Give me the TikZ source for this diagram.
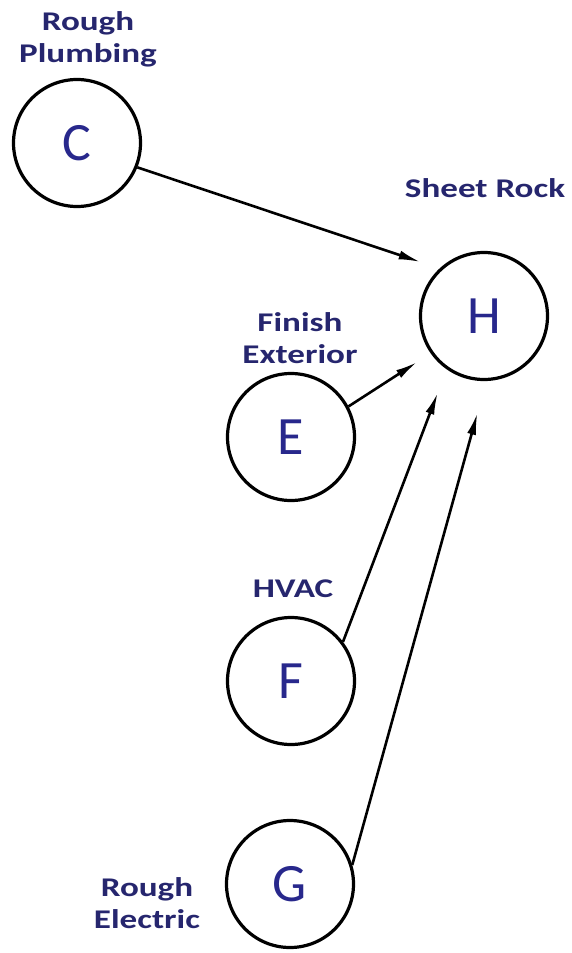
\documentclass[tikz,border=0pt]{standalone}
\usepackage{fontspec}
\setmainfont{Carlito}
\newfontfamily\tagfont{Carlito}[FakeStretch=1.3]
\usetikzlibrary{arrows.meta}
\definecolor{tagblue}{RGB}{38,38,110}
\definecolor{letterblue}{RGB}{40,40,140}

\begin{document}
\begin{tikzpicture}[x=1pt,y=-1pt,
  task/.style={draw=black,line width=3.2pt,circle,minimum size=127pt,inner sep=0pt,
    font=\fontsize{54}{60}\selectfont,text=letterblue},
  tag/.style={font=\tagfont\bfseries\fontsize{27}{32}\selectfont,text=tagblue,
    align=center,inner sep=0pt},
  link/.style={line width=2.6pt,-{Latex[length=22pt,width=9pt]}}]
\useasboundingbox (0,0) rectangle (572,953);
% activities:
\node[task] (C) at (77,143) {C};
\node[task] (H) at (484,316) {H};
\node[task] (E) at (291,437) {E};
\node[task] (F) at (291,681) {F};
\node[task] (G) at (290,884) {G};
% names:
\node[tag,anchor=base] (plumb) at (88,62) {Rough\\Plumbing};
\node[tag,anchor=base] (rock) at (485,197) {Sheet Rock};
\node[tag,anchor=base] (ext) at (300,363) {Finish\\Exterior};
\node[tag,anchor=base] (hvac) at (293,597) {HVAC};
\node[tag,anchor=base] (elec) at (147,928) {Rough\\Electric};
% precedences:
\draw[link,shorten >=20pt] (C.-22) -- (H.133);
\draw[link,shorten >=16pt] (E.28) -- (H.215);
\draw[link,shorten >=25pt] (F.37) -- (H.235);
\draw[link,shorten >=33pt] (G.17) -- (H.272);
\end{tikzpicture}
\end{document}
